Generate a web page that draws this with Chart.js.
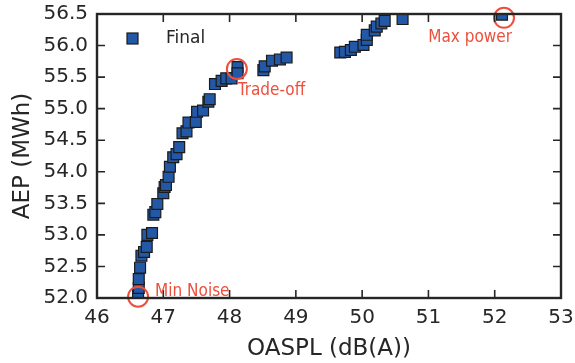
<!DOCTYPE html>
<html>
<head>
<meta charset="utf-8">
<script src="https://cdn.jsdelivr.net/npm/chart.js@4"></script>
<style>
  html, body { margin: 0; padding: 0; background: #fff; }
  #wrap { width: 575px; height: 363px; }
</style>
</head>
<body>
<div id="wrap"><canvas id="c" width="575" height="363"></canvas></div>
<script>
/* Pareto front: AEP vs OASPL */
const oaspl = [46.62, 46.63, 46.63, 46.65, 46.67, 46.71, 46.75, 46.76, 46.83, 46.85, 46.88, 46.91,
  47.00, 47.02, 47.04, 47.08, 47.10, 47.15, 47.20, 47.24, 47.29, 47.35, 47.38, 47.49, 47.51, 47.60,
  47.68, 47.70, 47.78, 47.88, 47.95, 48.03, 48.12, 48.12, 48.51, 48.53, 48.64, 48.76, 48.86,
  49.67, 49.74, 49.83, 49.89, 50.02, 50.07, 50.07, 50.19, 50.22, 50.29, 50.34, 50.61, 52.11];
const aep = [52.05, 52.16, 52.30, 52.48, 52.67, 52.73, 52.81, 53.00, 53.03, 53.32, 53.36, 53.49,
  53.66, 53.76, 53.79, 53.92, 54.08, 54.23, 54.28, 54.39, 54.61, 54.64, 54.78, 54.79, 54.95, 54.97,
  55.11, 55.15, 55.39, 55.44, 55.48, 55.48, 55.66, 55.56, 55.61, 55.67, 55.76, 55.78, 55.81,
  55.89, 55.90, 55.93, 55.98, 56.01, 56.09, 56.17, 56.24, 56.30, 56.35, 56.39, 56.42, 56.49];

const xTicks = [46, 47, 48, 49, 50, 51, 52, 53];
const yTicks = [52.0, 52.5, 53.0, 53.5, 54.0, 54.5, 55.0, 55.5, 56.0, 56.5];

const markNames = ["Min Noise", "Trade-off", "Max power"];
const markX = [46.62, 48.11, 52.14];
const markY = [52.02, 55.63, 56.44];

const seriesName = "Final";

const INK = "#262626", BLUE = "#2358a7", RED = "#ee4f3d";
Chart.defaults.font.family = "'DejaVu Sans'";
Chart.defaults.color = INK;

// label placement relative to each circle, in px
const markLabel = [
  { dx: 17, dy: -5, align: "left" },
  { dx: 1, dy: 22, align: "left" },
  { dx: 8, dy: 20, align: "right" },
];

const noPad = (s) => { s.paddingTop = 0; s.paddingBottom = 0; s.paddingLeft = 0; s.paddingRight = 0; };

const frame = {
  id: "frame",
  afterDatasetsDraw(chart) {
    const { ctx, chartArea: a, scales: { x, y } } = chart;
    const L = 8;
    ctx.save();
    ctx.strokeStyle = INK;
    ctx.lineWidth = 1.6;
    ctx.beginPath();
    x.ticks.forEach((t) => {
      const p = x.getPixelForValue(t.value);
      ctx.moveTo(p, a.bottom); ctx.lineTo(p, a.bottom - L);
      ctx.moveTo(p, a.top); ctx.lineTo(p, a.top + L);
    });
    y.ticks.forEach((t) => {
      const p = y.getPixelForValue(t.value);
      ctx.moveTo(a.left, p); ctx.lineTo(a.left + L, p);
      ctx.moveTo(a.right, p); ctx.lineTo(a.right - L, p);
    });
    ctx.stroke();
    ctx.lineWidth = 2.4;
    ctx.strokeRect(a.left, a.top, a.width, a.height);
    ctx.restore();
  },
  afterDraw(chart) {
    const { ctx, chartArea: a, scales: { x, y } } = chart;
    ctx.save();
    // legend
    ctx.fillStyle = BLUE; ctx.strokeStyle = "#1b1b1b"; ctx.lineWidth = 1.2;
    ctx.fillRect(a.left + 30, a.top + 19, 11, 11);
    ctx.strokeRect(a.left + 30, a.top + 19, 11, 11);
    ctx.fillStyle = INK; ctx.font = "17px 'DejaVu Sans'"; ctx.textBaseline = "middle";
    ctx.fillText(seriesName, a.left + 69, a.top + 25);
    // annotations
    ctx.fillStyle = RED;
    ctx.font = "17px 'Liberation Sans Narrow', 'DejaVu Sans Condensed', 'Open Sans', sans-serif";
    if ("fontStretch" in ctx) ctx.fontStretch = "condensed";
    markNames.forEach((n, i) => {
      const o = markLabel[i];
      ctx.textAlign = o.align;
      ctx.fillText(n, x.getPixelForValue(markX[i]) + o.dx, y.getPixelForValue(markY[i]) + o.dy);
    });
    ctx.restore();
  },
};

new Chart(document.getElementById("c"), {
  type: "scatter",
  data: {
    datasets: [
      {
        label: "marks", order: 0, clip: false,
        data: markX.map((v, i) => ({ x: v, y: markY[i] })),
        pointStyle: "circle", pointRadius: 10, pointBorderWidth: 2,
        pointBackgroundColor: "rgba(0,0,0,0)", pointBorderColor: RED,
      },
      {
        label: seriesName, order: 1, clip: 0,
        data: oaspl.map((v, i) => ({ x: v, y: aep[i] })),
        pointStyle: "rect", pointRadius: 7.7, pointBorderWidth: 1.2,
        pointBackgroundColor: BLUE, pointBorderColor: "#1b1b1b",
      },
    ],
  },
  options: {
    responsive: false, animation: false, events: [],
    layout: { padding: { left: 0, right: 14, top: 14, bottom: 0 } },
    plugins: { legend: { display: false }, tooltip: { enabled: false } },
    scales: {
      x: {
        type: "linear", min: 46, max: 53,
        afterBuildTicks: (s) => { s.ticks = xTicks.map((v) => ({ value: v })); },
        afterFit: (s) => { s.height = 65; noPad(s); },
        grid: { display: false, drawTicks: false }, border: { display: false },
        ticks: { font: { size: 20 }, padding: 8, color: INK, callback: (v) => String(v) },
        title: { display: true, text: "OASPL (dB(A))", font: { size: 23 }, color: INK, padding: { top: 1, bottom: 0 } },
      },
      y: {
        type: "linear", min: 52, max: 56.5,
        afterBuildTicks: (s) => { s.ticks = yTicks.map((v) => ({ value: v })); },
        afterFit: (s) => { s.width = 97; noPad(s); },
        grid: { display: false, drawTicks: false }, border: { display: false },
        ticks: { font: { size: 20 }, padding: 9, color: INK, callback: (v) => v.toFixed(1) },
        title: { display: true, text: "AEP (MWh)", font: { size: 23 }, color: INK, padding: { top: 9, bottom: 0 } },
      },
    },
  },
  plugins: [frame],
});
</script>
</body>
</html>
